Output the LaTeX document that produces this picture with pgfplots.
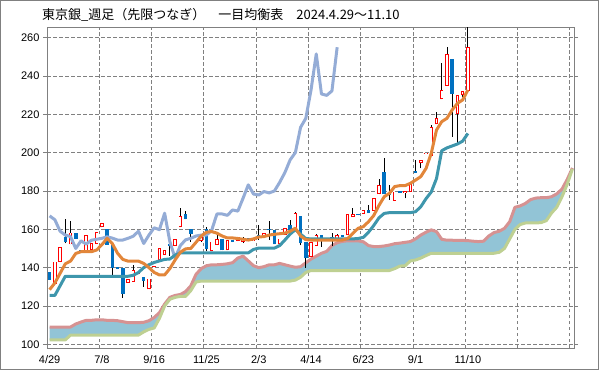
\documentclass[border=0pt]{standalone}
\usepackage{fontspec}
\setmainfont{Liberation Sans}
\newfontfamily\jp{Noto Sans CJK JP}
\usepackage{pgfplots}
\usepackage{pgfplotstable}
\pgfplotsset{compat=1.18}
\usepgfplotslibrary{fillbetween}
\definecolor{cred}{RGB}{255,0,0}
\definecolor{cblue}{RGB}{0,112,192}
\definecolor{corange}{RGB}{226,134,58}
\definecolor{cteal}{RGB}{62,150,172}
\definecolor{cchikou}{RGB}{148,172,214}
\definecolor{cpink}{RGB}{214,146,146}
\definecolor{cgreen}{RGB}{190,208,146}
\definecolor{ccloud}{RGB}{146,196,214}
\definecolor{cgrid}{RGB}{128,128,128}
% up candles: index, low, open, close, high
\pgfplotstableread{
i l o c h
1 131.4 131.4 143.2 143.2
2 142.9 142.9 150.7 150.7
4 152.1 152.1 158.3 164.4
7 148.2 148.2 156.9 156.9
8 148.5 149 152.6 152.6
9 152.5 152.5 158.7 158.7
10 161 161 163.2 163.2
15 132.1 132.1 133.9 133.9
16 132.7 132.7 138.7 141.2
17 136.5 136.5 137.3 137.3
19 128.7 128.7 134.3 134.3
20 140.1 140.1 140.8 140.8
21 143.8 143.8 150.1 150.1
22 146.7 146.7 149.2 149.2
24 151.5 151.5 154.8 154.8
25 161 161 166.8 171
29 153.5 153.7 155.9 155.9
31 148.5 148.5 153.6 153.6
32 151.7 151.7 155 157.5
34 149 149 154.5 154.5
36 153.8 153.8 155.8 156
37 152.8 153.6 155.7 155.9
39 154 154 154.6 154.6
41 156.3 156.3 158.2 158.2
44 152.4 152.4 155.2 155.2
45 157.1 157.1 160.6 160.6
47 160.5 160.5 168.4 169.2
50 145.8 145.8 153.4 153.4
51 151.4 151.4 156.8 157.6
53 154.3 154.3 155.6 155.6
55 154.8 154.8 157 157.5
57 156.9 156.9 168 168
58 166.6 166.6 168 171
60 168 168 170.1 170.1
62 169.8 169.8 176.2 176.2
63 178.4 178.4 183.2 186
66 175 175 179.7 179.7
68 176.2 179.1 180 180
69 179.7 179.7 184.5 184.5
71 191.8 194.4 196.2 196.2
72 199.3 199.3 200 200
73 198.4 198.4 213.2 214.4
74 214.8 214.8 217.9 221
75 227.8 227.8 232.7 246.6
76 235 235 251.5 255.3
78 204.9 220 229.9 229.9
79 229 229.9 232.2 232.2
80 232.2 232.2 255 268
}\upc
% down candles: index, low, close, open, high
\pgfplotstableread{
i l c o h
0 133.6 133.6 137.5 137.5
3 152.7 153.3 156 165.5
5 155.2 155.2 158.1 158.1
6 148.5 148.5 149.4 149.4
11 151.9 151.9 160.1 160.4
12 136 140 152.2 152.2
13 139.5 139.5 140.4 140.4
14 124.2 126.5 139.7 139.7
18 130 133.1 135 135
23 146.2 151.4 152.3 152.3
26 165.2 165.2 168.1 169.3
27 153.5 157.6 160.1 160.1
30 148.5 149.7 160 161
33 149 149 155 155
35 153.3 153.3 154.4 154.4
38 154.4 154.4 155.3 155.3
40 154.6 155.8 157.1 162.3
42 154.6 159.4 160.2 164.1
43 152.2 152.2 159.6 159.6
46 159.4 159.4 162.3 164.9
48 151.6 152.7 167 167
49 140 144.8 153.3 153.3
52 150.9 154.9 156.8 156.8
54 151.5 155 155.8 158
56 156.2 156.2 157.2 157.2
59 167.3 167.3 168 168
61 168.4 168.4 170.1 172.7
64 178.4 178.4 190.1 197.4
65 175.3 177.9 178.8 183.2
67 179 179 180 180
70 189.6 189.6 190.4 196.2
77 208.3 230.6 248.9 248.9
}\dnc
\pgfplotsset{candle/.style={draw=none, no markers, forget plot, error bars/.cd, y dir=plus, y explicit, error mark=none}}
\begin{document}
\begin{tikzpicture}[x=1pt,y=1pt]
\node[anchor=west, inner sep=0] at (42,355.5) {\jp\fontsize{13pt}{15pt}\selectfont 東京銀\_週足（先限つなぎ）　一目均衡表　2024.4.29～11.10};
\begin{axis}[
  at={(47pt,22pt)}, anchor=south west, scale only axis,
  width=527pt, height=320.7pt,
  set layers,
  xmin=-0.5, xmax=100.3, ymin=98.07, ymax=265.4,
  axis line style={cgrid, line width=0.8pt},
  tick label style={font=\fontsize{11pt}{13pt}\selectfont, black},
  /pgf/number format/assume math mode=true,
  ytick={100,120,...,260},
  ymajorgrids,
  major grid style={cgrid, line width=0.7pt, dash pattern=on 3.5pt off 2.5pt},
  minor grid style={cgrid, line width=0.7pt, dash pattern=on 3.5pt off 2.5pt},
  tick align=outside, major tick length=4pt,
  y tick style={cgrid, line width=0.8pt},
  xtick={0,10,...,80},
  xticklabels={4/29,7/8,9/16,11/25,2/3,4/14,6/23,9/1,11/10},
  x tick style={draw=none},
  minor xtick={9.5,19.5,...,99.5},
  xminorgrids,
]
% Senkou span A
\addplot[name path=sa, draw=cpink, line width=3pt, line join=round] coordinates {
(0,109)(1,109)(2,109)(3,109)(4,109)(5,110.6)(6,111.6)(7,112.5)(8,112.5)(9,112.8)(10,112.8)(11,112.5)(12,112.5)(13,112.3)(14,111.8)(15,111.3)(16,111.3)(17,111.3)(18,111.5)(19,112.3)(20,114)(21,116.5)(22,121)(23,124.5)(24,125.5)(25,126)(26,127.5)(27,130.5)(28,136.5)(29,139.5)(30,141)(31,141.5)(32,141.5)(33,141.7)(34,142)(35,142.6)(36,145)(37,146)(38,143.5)(39,141)(40,140)(41,140.5)(42,141.5)(43,141.5)(44,142.2)(45,141.5)(46,140.8)(47,140.2)(48,140.5)(49,142.5)(50,144.5)(51,146)(52,147.5)(53,148.5)(54,151.5)(55,153)(56,153.7)(57,154)(58,154)(59,154)(60,153.5)(61,151.5)(62,151)(63,151)(64,151.3)(65,151.8)(66,152.5)(67,152.8)(68,153.2)(69,153.6)(70,155)(71,157)(72,158.5)(73,159.7)(74,158.8)(75,154.8)(76,154.3)(77,154.3)(78,154.2)(79,154.2)(80,154.1)(81,153.8)(82,153.6)(83,153.8)(84,156.5)(85,158.3)(86,159)(87,160.5)(88,164)(89,171.5)(90,172.2)(91,173.5)(92,175.5)(93,176.3)(94,176.5)(95,176.5)(96,177)(97,178.5)(98,181)(99,186)(100,192)};
% Senkou span B
\addplot[name path=sb, draw=cgreen, line width=3pt, line join=round] coordinates {
(0,102.3)(1,102.3)(2,102.3)(3,102.3)(4,104.8)(5,104.8)(6,104.8)(7,104.8)(8,104.8)(9,104.8)(10,104.8)(11,104.8)(12,104.8)(13,104.8)(14,104.8)(15,104.8)(16,104.8)(17,104.8)(18,106.5)(19,107.8)(20,108.5)(21,113.5)(22,120)(23,123.5)(24,124.5)(25,125)(26,125)(27,128)(28,132.5)(29,133)(30,133)(31,133)(32,133)(33,133)(34,133)(35,133)(36,133)(37,133)(38,133)(39,133)(40,133)(41,133)(42,133)(43,133)(44,133)(45,133)(46,133)(47,133.5)(48,135)(49,137.5)(50,138.5)(51,138.5)(52,138.5)(53,138.5)(54,138.5)(55,138.5)(56,138.5)(57,138.5)(58,138.5)(59,138.5)(60,138.5)(61,138.5)(62,138.5)(63,138.5)(64,138.5)(65,138.5)(66,139.5)(67,140.8)(68,141)(69,143.5)(70,144)(71,145)(72,146.3)(73,147.5)(74,147.5)(75,147.5)(76,147.5)(77,147.5)(78,147.5)(79,147.5)(80,147.5)(81,147.5)(82,147.5)(83,147.5)(84,147.5)(85,147.5)(86,148)(87,150)(88,155)(89,160)(90,162.5)(91,163.3)(92,163.3)(93,163.3)(94,163.5)(95,164.5)(96,168.5)(97,171.5)(98,177)(99,183.5)(100,191.5)};
\addplot[fill=ccloud, draw=none] fill between[of=sa and sb];
% wicks
\addplot[candle, error bar style={draw=black, line width=0.8pt}] table[x=i, y=l, y error expr=\thisrow{h}-\thisrow{l}] {\upc};
\addplot[candle, error bar style={draw=black, line width=0.8pt}] table[x=i, y=l, y error expr=\thisrow{h}-\thisrow{l}] {\dnc};
% bodies
\addplot[candle, error bar style={draw=cblue, line width=3.5pt}] table[x=i, y=c, y error expr=\thisrow{o}-\thisrow{c}] {\dnc};
\addplot[candle, error bar style={draw=cred, line width=3.5pt}] table[x=i, y=o, y error expr=\thisrow{c}-\thisrow{o}] {\upc};
\addplot[candle, error bar style={draw=white, line width=1.7pt, shorten <=0.9pt, shorten >=0.9pt}] table[x=i, y=o, y error expr=\thisrow{c}-\thisrow{o}] {\upc};
% Chikou span
\addplot[draw=cchikou, line width=3pt, line join=round] coordinates {
(0,167)(1,165)(2,159)(3,157)(4,156.2)(5,150)(6,154)(7,152.3)(8,154.3)(9,154.8)(10,155.3)(11,156.1)(12,155.4)(13,154.4)(14,154.4)(15,155.3)(16,156.4)(17,159)(18,152.6)(19,157)(20,160.8)(21,159.8)(22,168.4)(23,153.5)(24,145)(25,151.5)(26,154.5)(27,155.3)(28,156.5)(29,157)(30,157)(31,159.5)(32,168)(33,168)(34,167.3)(35,170.1)(36,169.5)(37,176.2)(38,183.2)(39,178.4)(40,177.9)(41,179.7)(42,179)(43,180)(44,184.5)(45,189.6)(46,196.2)(47,200)(48,213.2)(49,217.9)(50,232.7)(51,251.5)(52,230.6)(53,229.9)(54,232.2)(55,255)};
% Kijun
\addplot[draw=cteal, line width=3pt, line join=round] coordinates {
(0,125.5)(1,125.5)(2,130.5)(3,135.5)(4,135.5)(5,135.5)(6,135.5)(7,135.5)(8,135.5)(9,135.5)(10,135.5)(11,135.5)(12,135.5)(13,135.5)(14,135.5)(15,135.5)(16,136)(17,137.5)(18,140)(19,141.5)(20,142.7)(21,143.5)(22,144.3)(23,144.5)(24,146.5)(25,147.7)(26,147.7)(27,147.7)(28,147.7)(29,147.7)(30,147.7)(31,147.7)(32,147.7)(33,147.7)(34,147.7)(35,147.7)(36,147.7)(37,147.7)(38,147.7)(39,149.5)(40,150.2)(41,150.2)(42,150.2)(43,150.2)(44,151.5)(45,154.4)(46,157.5)(47,159.8)(48,157.5)(49,155.2)(50,155)(51,155)(52,155)(53,155)(54,155)(55,155)(56,155)(57,155)(58,155)(59,155.2)(60,155.8)(61,158.5)(62,162)(63,166)(64,168.3)(65,168.7)(66,168.7)(67,168.7)(68,168.7)(69,168.7)(70,169.2)(71,171.8)(72,176)(73,179.5)(74,186.5)(75,201)(76,202.5)(77,203.5)(78,204.5)(79,206)(80,210)};
% Tenkan
\addplot[draw=corange, line width=3pt, line join=round] coordinates {
(0,128.5)(1,132)(2,137)(3,142)(4,143.4)(5,147.4)(6,148.3)(7,148.3)(8,148.3)(9,149.2)(10,152)(11,155.3)(12,152.5)(13,147.5)(14,144.3)(15,143.4)(16,143.4)(17,143.4)(18,142.2)(19,140)(20,137.5)(21,136.2)(22,136.2)(23,139.5)(24,144)(25,148)(26,149.8)(27,150)(28,153.2)(29,156.5)(30,158.5)(31,158.8)(32,158)(33,156.5)(34,155.5)(35,155.5)(36,155.2)(37,154.8)(38,154.4)(39,155)(40,156)(41,156.2)(42,157)(43,157.4)(44,157.7)(45,158)(46,159)(47,160.6)(48,156.5)(49,154.6)(50,154.4)(51,154.4)(52,154.4)(53,154.4)(54,154.4)(55,154.4)(56,154.4)(57,155.2)(58,157.9)(59,160.5)(60,161.4)(61,164)(62,167.2)(63,172.5)(64,177)(65,178.8)(66,182.3)(67,182.8)(68,182.8)(69,184)(70,185.7)(71,187.5)(72,191.8)(73,199.7)(74,211.8)(75,216.2)(76,217.9)(77,222.3)(78,225.7)(79,227.5)(80,232.7)};
\end{axis}
\draw[cgrid, line width=0.8pt] (0.4,0.4) rectangle (598.6,369.6);
\pgfresetboundingbox
\path[use as bounding box] (0,0) rectangle (599,370);
\end{tikzpicture}
\end{document}
